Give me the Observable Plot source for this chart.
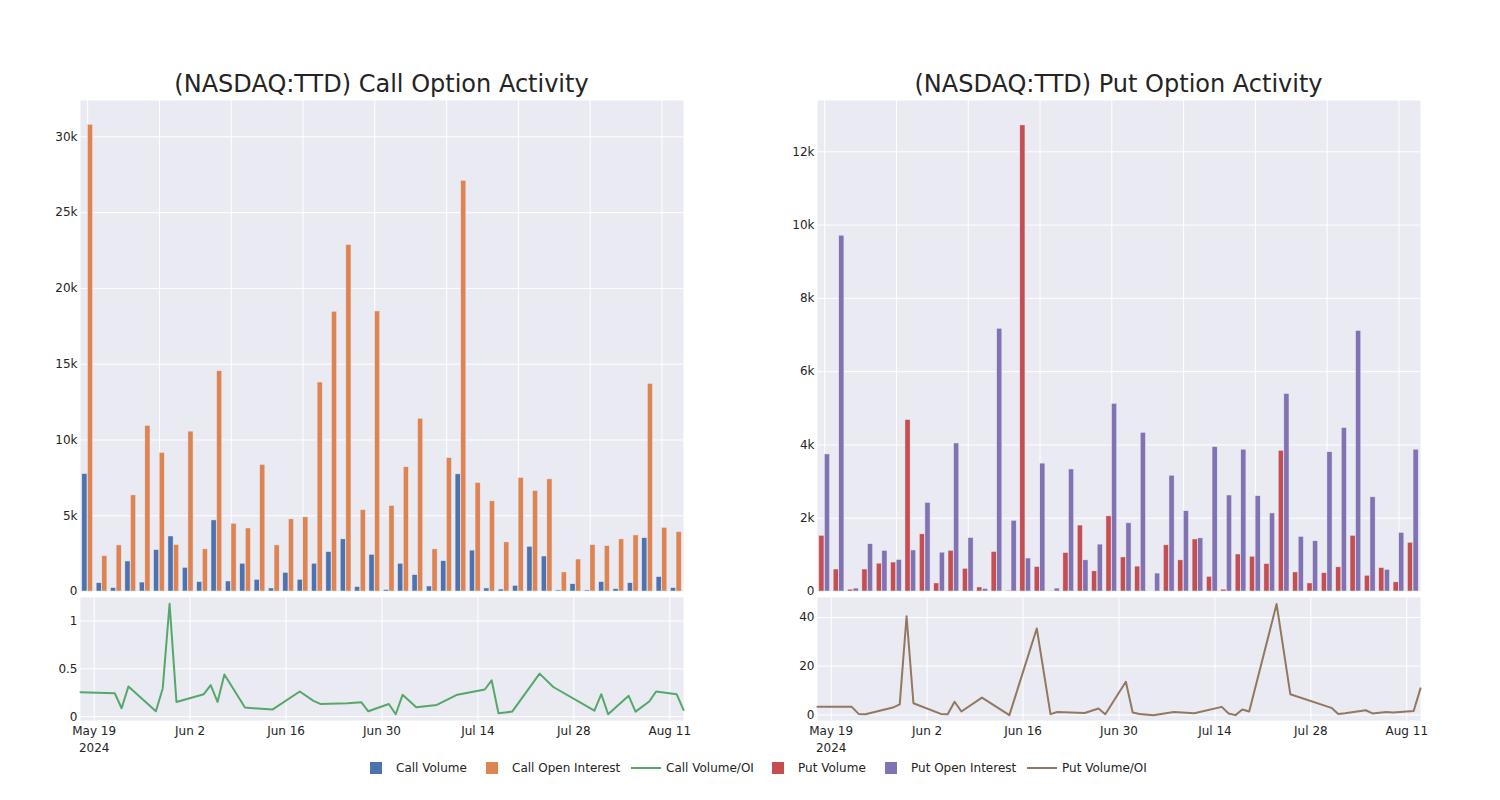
<!DOCTYPE html>
<html><head><meta charset="utf-8">
<script src="https://cdn.jsdelivr.net/npm/d3@7"></script>
<script src="https://cdn.jsdelivr.net/npm/@observablehq/plot@0.6"></script>
<style>
body{margin:0;background:#fff;font-family:"DejaVu Sans",Verdana,sans-serif;color:rgb(36,36,36);}
#root{position:relative;width:1500px;height:800px;overflow:hidden;background:#fff}
.panel{position:absolute}
.title{position:absolute;font-size:24px;text-align:center;width:603px;top:70px;white-space:nowrap;line-height:28px}
.leg{position:absolute;top:760px;height:16px;font-size:12px;line-height:16px;white-space:nowrap}
.sw{position:absolute;top:2px;width:12px;height:12px}
.ln{position:absolute;top:7px;width:30px;height:2px}
</style></head><body><div id="root"></div><script>
const dates = ["2024-05-17","2024-05-22","2024-05-23","2024-05-24","2024-05-28","2024-05-29","2024-05-30","2024-05-31",
"2024-06-04","2024-06-05","2024-06-06","2024-06-07","2024-06-10","2024-06-14","2024-06-18","2024-06-20","2024-06-21","2024-06-25","2024-06-27","2024-06-28",
"2024-07-01","2024-07-02","2024-07-03","2024-07-05","2024-07-08","2024-07-11","2024-07-15","2024-07-16","2024-07-17","2024-07-18","2024-07-19","2024-07-23","2024-07-25","2024-07-31",
"2024-08-01","2024-08-02","2024-08-05","2024-08-06","2024-08-08","2024-08-09","2024-08-12","2024-08-13"];
const callVolume = [7750,550,220,1980,590,2730,3630,1560,620,4690,660,1830,770,200,1230,770,1830,2600,3440,290,2420,
100,1830,1080,330,2000,7730,2700,200,130,370,2950,2310,70,480,70,620,150,550,3520,950,220];
const callOI = [30800,2330,3040,6340,10930,9140,3060,10550,2780,14540,4470,4160,8350,3040,4760,4890,13790,18460,22860,5370,18480,
5640,8200,11400,2780,8800,27100,7160,5950,3240,7490,6630,7400,1260,2110,3060,3000,3440,3700,13700,4200,3920];
const callRatio = [0.256,0.245,0.088,0.316,0.056,0.295,1.18,0.154,0.235,0.33,0.154,0.44,0.095,0.074,0.263,0.165,0.133,0.14,0.15,0.056,
0.133,0.025,0.228,0.098,0.123,0.23,0.284,0.38,0.035,0.044,0.053,0.45,0.31,0.063,0.235,0.025,0.218,0.053,0.158,0.263,0.235,0.07];
const putVolume = [1520,600,50,600,760,790,4680,1560,220,1110,620,110,1080,20,12720,670,10,1050,1800,550,2050,
930,680,0,1260,850,1420,400,50,1010,950,750,3840,520,220,500,660,1520,430,640,250,1330];
const putOI = [3740,9710,80,1290,1110,860,1120,2420,1060,4040,1460,70,7170,1930,900,3490,80,3330,850,1280,5120,
1860,4330,490,3160,2190,1450,3940,2620,3870,2600,2130,5390,1490,1370,3800,4460,7110,2570,590,1600,3870];
const putRatio = [3.3,3.3,0.4,0.3,3.0,4.3,40.5,4.8,0.4,0.3,5.4,1.4,7.1,-0.1,35.5,0.3,1.2,0.8,2.6,0.3,
13.6,1.0,0.4,-0.1,1.2,0.7,3.3,0.6,-0.1,2.2,1.4,45.5,8.5,2.9,0.4,0.7,1.9,0.6,1.2,1.0,1.6,10.9];
const callYTicks = [0,5000,10000,15000,20000,25000,30000];
const putYTicks = [0,2000,4000,6000,8000,10000,12000];
const callRatioTicks = [0,0.5,1];
const putRatioTicks = [0,20,40];
const xDateTicks = ["2024-05-19","2024-06-02","2024-06-16","2024-06-30","2024-07-14","2024-07-28","2024-08-11"];
const xDateLabels = ["May 19\n2024","Jun 2","Jun 16","Jun 30","Jul 14","Jul 28","Aug 11"];
const legendItems = [
  {label:"Call Volume", kind:"bar", color:"#4C72B0"},
  {label:"Call Open Interest", kind:"bar", color:"#DD8452"},
  {label:"Call Volume/OI", kind:"line", color:"#55A868"},
  {label:"Put Volume", kind:"bar", color:"#C44E52"},
  {label:"Put Open Interest", kind:"bar", color:"#8172B3"},
  {label:"Put Volume/OI", kind:"line", color:"#937860"}
];

const BG = "#EAEAF2", TXT = "rgb(36,36,36)";
const FONT = '"DejaVu Sans",Verdana,sans-serif';
const kfmt = d => d === 0 ? "0" : (d/1000) + "k";

function barPanel(vol, oi, c1, c2, yMax, yTicks) {
  const rows = dates.map((d,i)=>({date:d, vol:vol[i], oi:oi[i]}));
  const gridDates = dates.filter((d,i)=>i%5===0);
  return Plot.plot({
    width:700, height:496, marginLeft:80, marginRight:17, marginTop:5, marginBottom:0,
    style:{fontFamily:FONT, fontSize:"12px", color:TXT, background:"transparent", overflow:"visible"},
    x:{type:"band", domain:dates, padding:0, round:false, axis:null},
    y:{domain:[0,yMax], axis:null},
    marks:[
      Plot.frame({fill:BG, stroke:"none"}),
      Plot.ruleY(yTicks, {y:d=>d, stroke:"white", strokeWidth:1}),
      Plot.ruleX(gridDates, {x:d=>d, stroke:"white", strokeWidth:1}),
      Plot.barY(rows, {x:"date", y:"vol", fill:c1, stroke:BG, strokeWidth:0.5, insetLeft:1.8, insetRight:7.4}),
      Plot.barY(rows, {x:"date", y:"oi", fill:c2, stroke:BG, strokeWidth:0.5, insetLeft:7.4, insetRight:1.8}),
      Plot.text(yTicks, {y:d=>d, text:kfmt, frameAnchor:"left", textAnchor:"end", dx:-3, fill:TXT})
    ]
  });
}
function linePanel(ratio, color, yDomain, yTicks) {
  const rows = dates.map((d,i)=>({date:new Date(d), v:ratio[i]}));
  return Plot.plot({
    width:700, height:163, marginLeft:80, marginRight:17, marginTop:0, marginBottom:40,
    style:{fontFamily:FONT, fontSize:"12px", color:TXT, background:"transparent", overflow:"visible"},
    x:{type:"utc", domain:[new Date(dates[0]), new Date(dates[dates.length-1])], axis:null},
    y:{domain:yDomain, axis:null},
    marks:[
      Plot.frame({fill:BG, stroke:"none"}),
      Plot.ruleY(yTicks, {y:d=>d, stroke:"white", strokeWidth:1}),
      Plot.ruleX(xDateTicks, {x:d=>new Date(d), stroke:"white", strokeWidth:1}),
      Plot.line(rows, {x:"date", y:"v", stroke:color, strokeWidth:2}),
      Plot.text(yTicks, {y:d=>d, text:d=>String(d), frameAnchor:"left", textAnchor:"end", dx:-3, fill:TXT}),
      Plot.text(xDateTicks, {x:d=>new Date(d), text:(d,i)=>xDateLabels[i], frameAnchor:"bottom", lineAnchor:"top", dy:2, lineHeight:1.42, fill:TXT})
    ]
  });
}

const root = document.getElementById("root");
function place(el, left, top) { const w = document.createElement("div"); w.className="panel"; w.style.left=left+"px"; w.style.top=top+"px"; w.appendChild(el); root.appendChild(w); }
place(barPanel(callVolume, callOI, "#4C72B0", "#DD8452", 32400, callYTicks), 0, 95);
place(linePanel(callRatio, "#55A868", [-0.04, 1.245], callRatioTicks), 0, 597);
place(barPanel(putVolume, putOI, "#C44E52", "#8172B3", 13400, putYTicks), 737, 95);
place(linePanel(putRatio, "#937860", [-2.3, 48.2], putRatioTicks), 737, 597);

[["(NASDAQ:TTD) Call Option Activity", 80], ["(NASDAQ:TTD) Put Option Activity", 817]].forEach(([t, l]) => {
  const d = document.createElement("div"); d.className="title"; d.style.left=l+"px"; d.textContent=t; root.appendChild(d);
});

const legLefts = [370, 486, 631, 772, 885, 1027];
legendItems.forEach((it, i) => {
  const d = document.createElement("div"); d.className="leg"; d.style.left = legLefts[i]+"px";
  const s = document.createElement("div"); s.className = it.kind==="bar" ? "sw" : "ln"; s.style.background = it.color; s.style.left="0px";
  const t = document.createElement("span"); t.textContent = it.label; t.style.position="absolute"; t.style.left = (it.kind==="bar" ? 26 : 35)+"px";
  d.appendChild(s); d.appendChild(t); root.appendChild(d);
});
</script></body></html>
